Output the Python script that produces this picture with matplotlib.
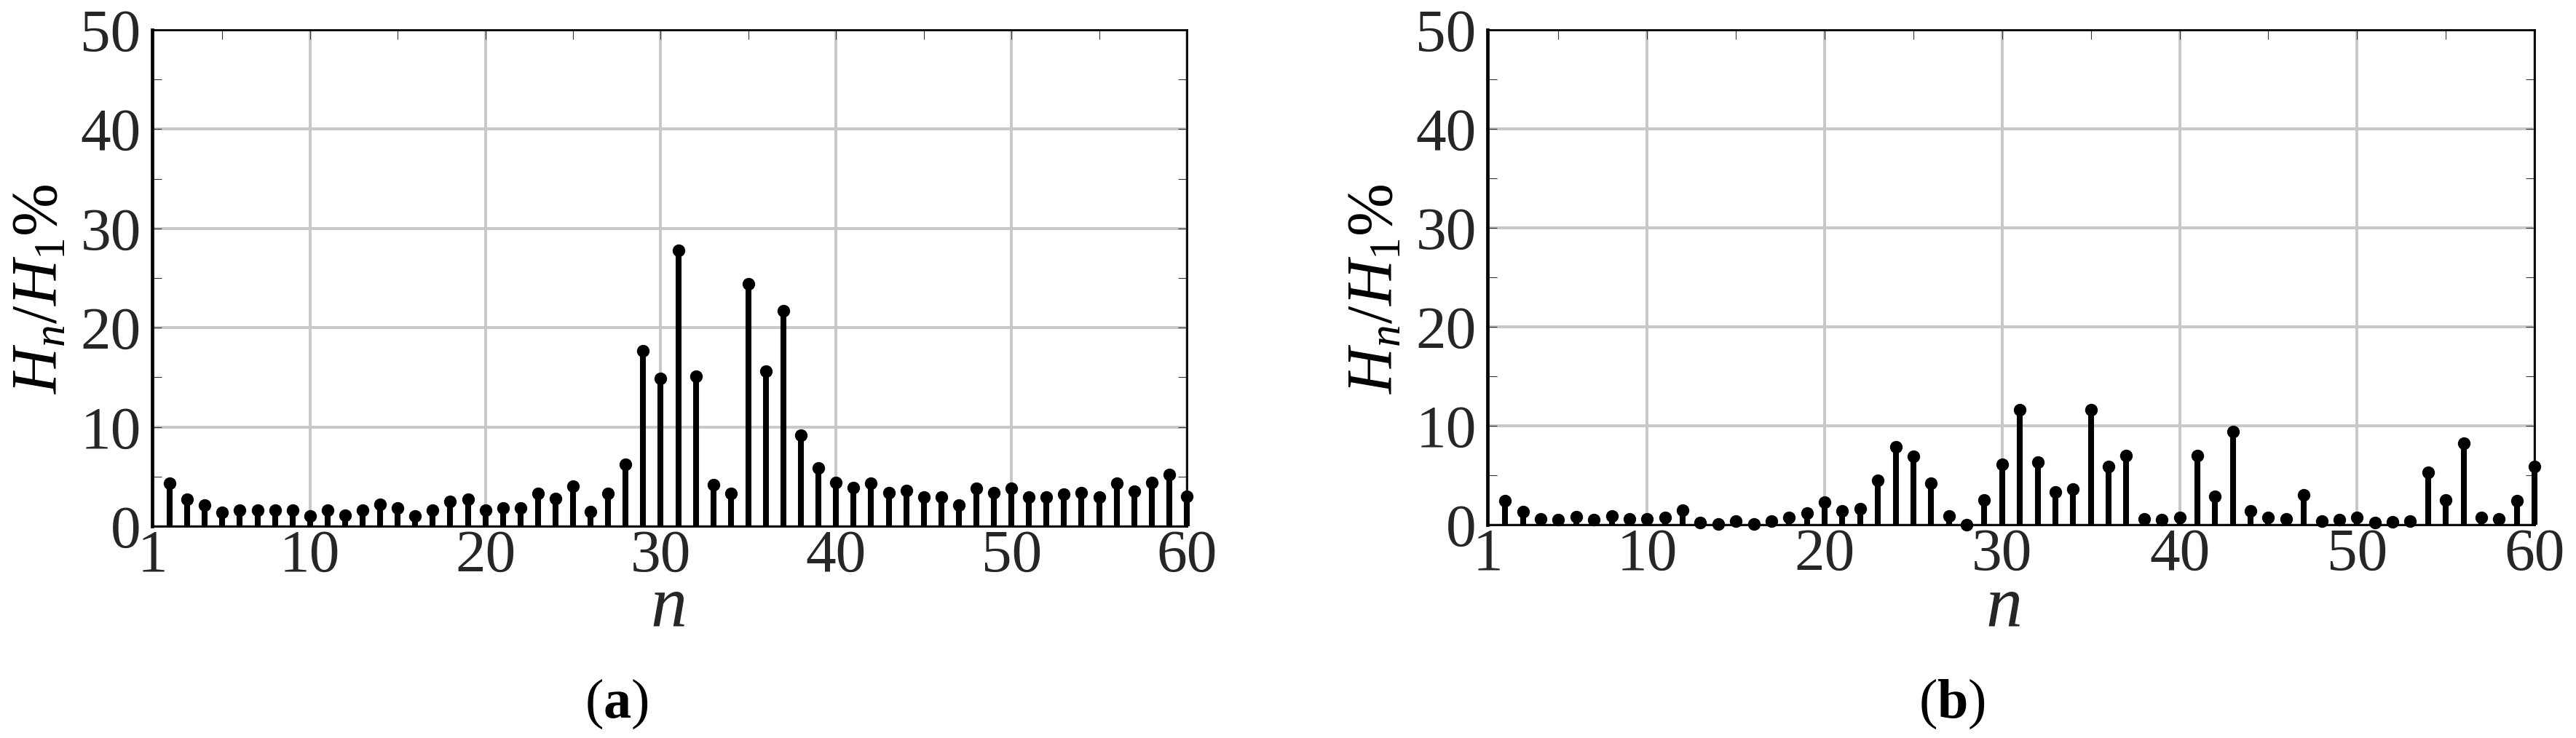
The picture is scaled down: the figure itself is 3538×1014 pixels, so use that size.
import matplotlib
matplotlib.use('Agg')
import matplotlib.pyplot as plt
from matplotlib.ticker import MultipleLocator, FixedLocator

plt.rcParams['font.family'] = ['Liberation Serif', 'DejaVu Serif']
plt.rcParams['mathtext.fontset'] = 'custom'
plt.rcParams['mathtext.rm'] = 'Liberation Serif'
plt.rcParams['mathtext.it'] = 'Liberation Serif:italic'
plt.rcParams['mathtext.bf'] = 'Liberation Serif:bold'

# harmonic orders 2..60 (fundamental excluded)
orders = list(range(2, 61))

harm_a = [4.3, 2.7, 2.1, 1.4, 1.6, 1.6, 1.6, 1.6, 1.0,
          1.6, 1.1, 1.6, 2.2, 1.8, 1.0, 1.6, 2.5, 2.7, 1.6,
          1.8, 1.8, 3.3, 2.8, 4.0, 1.5, 3.3, 6.2, 17.7, 14.9,
          27.8, 15.1, 4.2, 3.3, 24.4, 15.6, 21.7, 9.2, 5.9, 4.4,
          3.9, 4.3, 3.4, 3.6, 2.9, 2.9, 2.1, 3.8, 3.4, 3.8,
          2.9, 2.9, 3.2, 3.4, 2.9, 4.3, 3.5, 4.4, 5.2, 3.0]

harm_b = [2.4, 1.3, 0.6, 0.5, 0.8, 0.5, 0.9, 0.6, 0.6,
          0.7, 1.5, 0.2, 0.1, 0.4, 0.1, 0.4, 0.7, 1.2, 2.3,
          1.4, 1.6, 4.5, 7.9, 6.9, 4.2, 0.9, 0.0, 2.5, 6.1,
          11.6, 6.3, 3.3, 3.6, 11.6, 5.9, 7.0, 0.6, 0.5, 0.7,
          7.0, 2.9, 9.4, 1.4, 0.7, 0.6, 3.0, 0.4, 0.5, 0.7,
          0.2, 0.3, 0.4, 5.3, 2.5, 8.2, 0.7, 0.6, 2.4, 5.9]

x_ticks = [1, 10, 20, 30, 40, 50, 60]
y_ticks = [0, 10, 20, 30, 40, 50]
captions = ['a', 'b']

W, H = 3538, 1014
fig = plt.figure(figsize=(W / 100, H / 100), dpi=100)

# axes boxes in pixels: left, top, right, bottom
boxes = [(209, 41, 1630, 723), (2043, 41, 3481, 721)]
text_col = '#262626'


def draw_panel(box, vals, cap):
    l, t, r, b = box
    ax = fig.add_axes([l / W, 1 - b / H, (r - l) / W, (b - t) / H])
    markers, stems, base = ax.stem(orders, vals, linefmt='k-',
                                   markerfmt='ko', basefmt=' ')
    stems.set_linewidth(5.8)
    markers.set_markersize(11.5)
    markers.set_clip_on(False)
    stems.set_clip_on(False)
    ax.set_xlim(1, 60)
    ax.set_ylim(0, 50)
    ax.xaxis.set_major_locator(FixedLocator(x_ticks))
    ax.xaxis.set_minor_locator(FixedLocator([5, 15, 25, 35, 45, 55]))
    ax.yaxis.set_major_locator(FixedLocator(y_ticks))
    ax.yaxis.set_minor_locator(MultipleLocator(5))
    ax.grid(True, which='major', color='#c8c8c8', linewidth=2.8)
    ax.set_axisbelow(True)
    ax.tick_params(which='both', direction='in', top=True, right=True,
                   length=9, width=0.8, color='#333333')
    ax.tick_params(which='major', labelsize=60, labelcolor=text_col)
    ax.tick_params(axis='y', pad=11)
    ax.tick_params(axis='x', pad=3)
    for side in ['top', 'right', 'bottom']:
        ax.spines[side].set_linewidth(2.0)
    ax.spines['left'].set_linewidth(3.4)

    fig.text((l - 154) / W, 1 - 397 / H, r'$\mathit{H_n/H_1\%}$',
             rotation=90, ha='center', va='center', fontsize=63,
             color='black')
    fig.text((l + 708) / W, 1 - 860 / H, r'$\mathit{n}$',
             ha='center', va='baseline', fontsize=72, color=text_col)
    fig.text((l + 638) / W, 1 - 967 / H, '(' + r'$\mathbf{' + cap + '}$' + ')',
             ha='center', va='center', fontsize=55, color='black')
    return ax


draw_panel(boxes[0], harm_a, captions[0])
draw_panel(boxes[1], harm_b, captions[1])

fig.savefig('out.png', dpi=100)
